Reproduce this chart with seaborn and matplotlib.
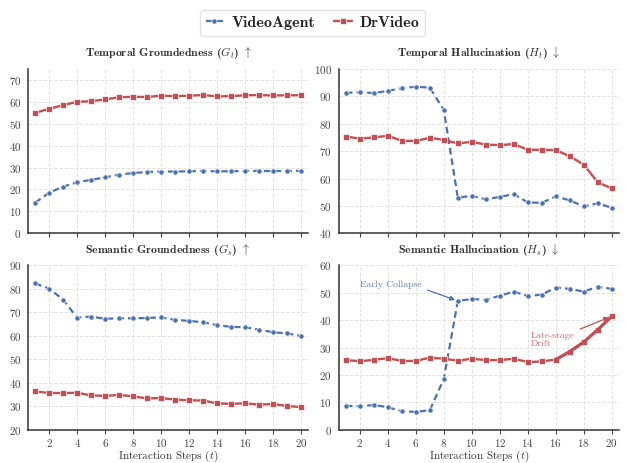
import matplotlib
matplotlib.use("Agg")
import matplotlib.pyplot as plt
import numpy as np
import pandas as pd
import seaborn as sns

# interaction steps
steps = list(range(1, 21))

# Temporal Groundedness (G_t)
tg_videoagent = [14, 18.5, 21.3, 23.3, 24.4, 25.5, 26.8, 27.5, 28, 28.2,
                 28.2, 28.3, 28.4, 28.3, 28.3, 28.5, 28.5, 28.4, 28.5, 28.5]
tg_drvideo = [55, 56.8, 58.5, 60, 60.3, 61.1, 62.1, 62.3, 62.2, 62.8,
              62.6, 62.8, 63.1, 62.5, 62.6, 63, 63.1, 62.9, 63, 63]

# Temporal Hallucination (H_t)
th_videoagent = [91.3, 91.5, 91.2, 92, 93, 93.5, 93.2, 85, 53, 53.7,
                 52.4, 53.3, 54.3, 51.3, 51.1, 53.5, 52, 49.8, 51, 49.3]
th_drvideo = [75.3, 74.6, 75, 75.6, 73.8, 73.7, 74.9, 74.1, 72.8, 73.4,
              72.4, 72.2, 72.6, 70.5, 70.5, 70.4, 68.1, 65.1, 58.6, 56.4]

# Semantic Groundedness (G_s)
sg_videoagent = [82.3, 80.1, 75.4, 67.7, 68.2, 67.2, 67.5, 67.4, 67.6, 67.8,
                 66.8, 66.3, 65.8, 64.5, 63.8, 63.6, 62.6, 61.5, 61, 59.9]
sg_drvideo = [36.3, 35.6, 35.6, 35.7, 34.6, 34.4, 34.8, 34.2, 33.3, 33.5,
              32.8, 32.5, 32.4, 31.2, 31, 31.2, 30.7, 30.9, 30.1, 29.6]

# Semantic Hallucination (H_s)
sh_videoagent = [8.7, 8.5, 9, 8.2, 6.7, 6.5, 7.1, 18.5, 47, 47.7,
                 47.4, 48.9, 50.4, 48.8, 49.3, 51.9, 51.4, 50.4, 52.2, 51.4]
sh_drvideo = [25.4, 25, 25.5, 26.1, 25.1, 25.1, 26.3, 25.9, 25.2, 25.9,
              25.4, 25.4, 25.9, 24.7, 24.9, 25.6, 28.5, 32, 36.5, 41.4]

blue = "#4C72B0"
red = "#C44E52"

sns.set_style("whitegrid")
plt.rcParams["font.family"] = "serif"
plt.rcParams["font.serif"] = ["cmr10"]
plt.rcParams["mathtext.fontset"] = "cm"
plt.rcParams["axes.formatter.use_mathtext"] = True
plt.rcParams["axes.unicode_minus"] = False


def draw_panel(ax, va, dr, title, ylim, yticks):
    sns.lineplot(x=steps, y=va, ax=ax, color=blue, linestyle=(0, (3, 1.8)), lw=1.6,
                 marker="o", markersize=3.8, markeredgecolor="white", markeredgewidth=0.5,
                 label="VideoAgent", legend=False)
    sns.lineplot(x=steps, y=dr, ax=ax, color=red, lw=1.7,
                 marker="s", markersize=3.8, markeredgecolor="white", markeredgewidth=0.5,
                 label="DrVideo", legend=False)
    ax.set_title(title, fontsize=8.5, fontfamily="cmb10", pad=9, color="#333333")
    ax.set_ylim(*ylim)
    ax.set_yticks(yticks)
    ax.set_xlim(0.5, 20.5)
    ax.set_xticks(range(2, 21, 2))
    ax.tick_params(axis="both", labelsize=8, colors="#444444", length=3, pad=2)
    ax.tick_params(axis="x", bottom=True, direction="out")
    sns.despine(ax=ax)
    for s in ["left", "bottom"]:
        ax.spines[s].set_color("#333333")
        ax.spines[s].set_linewidth(1.1)
    ax.grid(True, linestyle="--", color="#e3e3e3", lw=0.7)


fig, axes = plt.subplots(2, 2, figsize=(6.25, 4.63), dpi=100, sharex=True)
fig.subplots_adjust(left=0.045, right=0.99, top=0.851, bottom=0.072, wspace=0.11, hspace=0.195)

draw_panel(axes[0, 0], tg_videoagent, tg_drvideo,
           r"Temporal Groundedness ($G_t$) $\uparrow$", (0, 75), range(0, 71, 10))
draw_panel(axes[0, 1], th_videoagent, th_drvideo,
           r"Temporal Hallucination ($H_t$) $\downarrow$", (40, 100), range(40, 101, 10))
draw_panel(axes[1, 0], sg_videoagent, sg_drvideo,
           r"Semantic Groundedness ($G_s$) $\uparrow$", (20, 90), range(20, 91, 10))
draw_panel(axes[1, 1], sh_videoagent, sh_drvideo,
           r"Semantic Hallucination ($H_s$) $\downarrow$", (0, 60), range(0, 61, 10))

# emphasised late-stage drift segment
ax = axes[1, 1]
ax.plot(steps[15:], sh_drvideo[15:], color=red, lw=2.3, zorder=2.5)

ax.annotate("Early Collapse", xy=(steps[8], sh_videoagent[8]), xytext=(2.0, 53),
            fontsize=7, color=blue, alpha=0.9, ha="left", va="center",
            arrowprops=dict(arrowstyle="-|>", color=blue, lw=0.9, mutation_scale=7,
                            relpos=(1.0, 0.1)))
ax.annotate("Late-stage\nDrift", xy=(steps[19], sh_drvideo[19]), xytext=(14.2, 32.8),
            fontsize=7, color="#d06a6e", ha="left", va="center", linespacing=1.0,
            arrowprops=dict(arrowstyle="-|>", color=red, lw=0.9, mutation_scale=7,
                            relpos=(1.0, 1.0)))

for a in axes[1]:
    a.set_xlabel(r"Interaction Steps ($t$)", fontsize=8, color="#333333", labelpad=0)

handles, labels = axes[0, 0].get_legend_handles_labels()
fig.legend(handles, labels, loc="upper center", ncol=2, bbox_to_anchor=(0.5, 0.995),
           prop={"family": "cmb10", "size": 11.5}, frameon=True, edgecolor="#dddddd",
           handlelength=1.1, columnspacing=1.2, handletextpad=0.5, borderpad=0.35)

fig.savefig("out.png", dpi=100)
